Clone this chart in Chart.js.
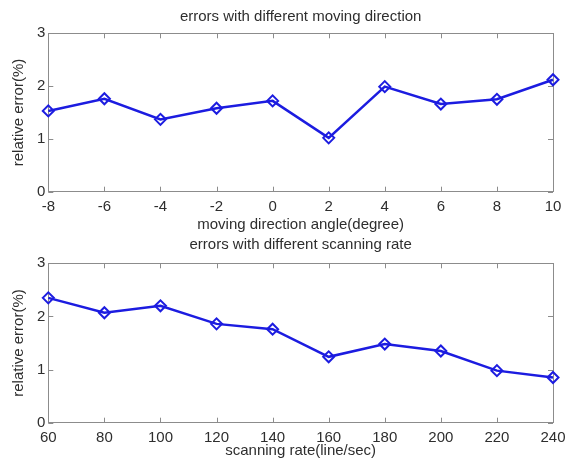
<!DOCTYPE html>
<html>
<head>
<meta charset="utf-8">
<style>
  body { margin: 0; background: #fff; }
  #wrap { position: relative; width: 565px; height: 464px; }
  .box { position: absolute; left: 0; width: 565px; }
</style>
</head>
<body>
<div id="wrap">
  <div class="box" style="top:0;height:234px"><canvas id="c1"></canvas></div>
  <div class="box" style="top:232px;height:228px"><canvas id="c2"></canvas></div>
</div>
<script src="https://cdn.jsdelivr.net/npm/chart.js"></script>
<script>
// data
const angles = [-8, -6, -4, -2, 0, 2, 4, 6, 8, 10];
const angleErrors = [1.53, 1.76, 1.37, 1.58, 1.72, 1.02, 1.99, 1.66, 1.75, 2.12];
const rates = [60, 80, 100, 120, 140, 160, 180, 200, 220, 240];
const rateErrors = [2.35, 2.07, 2.20, 1.86, 1.76, 1.24, 1.48, 1.35, 0.98, 0.85];
const yMin = 0, yMax = 3, yStep = 1;

const FONT = "'Liberation Sans', Arial, sans-serif";
const TEXT = '#2e2e2e';
const BLUE = '#1c1ce0';

// matlab style box with inward ticks on all four sides
const matlabBox = {
  id: 'matlabBox',
  beforeDatasetsDraw(chart) {
    const { ctx, chartArea: a, scales: { x, y } } = chart;
    ctx.save();
    ctx.strokeStyle = '#8c8c8c';
    ctx.lineWidth = 1;
    ctx.strokeRect(Math.round(a.left) + 0.5, Math.round(a.top) + 0.5,
      Math.round(a.right - a.left), Math.round(a.bottom - a.top));
    ctx.beginPath();
    x.ticks.forEach(t => {
      const px = Math.round(x.getPixelForValue(t.value)) + 0.5;
      ctx.moveTo(px, a.bottom); ctx.lineTo(px, a.bottom - 5);
      ctx.moveTo(px, a.top); ctx.lineTo(px, a.top + 5);
    });
    y.ticks.forEach(t => {
      const py = Math.round(y.getPixelForValue(t.value)) + 0.5;
      ctx.moveTo(a.left, py); ctx.lineTo(a.left + 5, py);
      ctx.moveTo(a.right, py); ctx.lineTo(a.right - 5, py);
    });
    ctx.stroke();
    ctx.restore();
  }
};

function makeChart(id, xs, ys, opts) {
  return new Chart(document.getElementById(id), {
    type: 'line',
    data: {
      datasets: [{
        data: xs.map((v, i) => ({ x: v, y: ys[i] })),
        borderColor: BLUE,
        borderWidth: 2.5,
        pointStyle: 'rectRot',
        pointRadius: 5.5,
        pointBorderWidth: 2,
        pointBorderColor: BLUE,
        pointBackgroundColor: 'rgba(0,0,0,0)',
        tension: 0,
        clip: false
      }]
    },
    plugins: [matlabBox],
    options: {
      responsive: true,
      maintainAspectRatio: false,
      animation: false,
      layout: { padding: { left: 0, right: 12, top: 0, bottom: 0 } },
      plugins: {
        legend: { display: false },
        tooltip: { enabled: false },
        title: {
          display: true,
          fullSize: false,
          text: opts.title,
          color: TEXT,
          font: { family: FONT, size: 15, weight: 'normal' },
          padding: opts.titlePad
        }
      },
      scales: {
        x: {
          type: 'linear',
          min: opts.xMin, max: opts.xMax,
          afterFit: s => { s.height = opts.xHeight; s.paddingLeft = 0; s.paddingRight = 0; },
          grid: { display: false, drawTicks: false },
          border: { display: false },
          ticks: { stepSize: opts.xStep, color: TEXT, padding: opts.xTickPad, maxRotation: 0,
                   font: { family: FONT, size: 15 } },
          title: { display: true, text: opts.xTitle, color: TEXT, padding: 0,
                   font: { family: FONT, size: 15 } }
        },
        y: {
          min: yMin, max: yMax,
          afterFit: s => { s.width = 48.3; s.paddingTop = 0; s.paddingBottom = 0; },
          grid: { display: false, drawTicks: false },
          border: { display: false },
          ticks: { stepSize: yStep, color: TEXT, padding: 3, font: { family: FONT, size: 15 } },
          title: { display: true, text: 'relative error(%)', color: TEXT, padding: { top: 10, bottom: 0 },
                   font: { family: FONT, size: 15 } }
        }
      }
    }
  });
}

makeChart('c1', angles, angleErrors, {
  title: 'errors with different moving direction',
  titlePad: { top: 8, bottom: 7.3 },
  xMin: -8, xMax: 10, xStep: 2,
  xHeight: 42.3, xTickPad: 6,
  xTitle: 'moving direction angle(degree)'
});

makeChart('c2', rates, rateErrors, {
  title: 'errors with different scanning rate',
  titlePad: { top: 4, bottom: 9.3 },
  xMin: 60, xMax: 240, xStep: 20,
  xHeight: 37.3, xTickPad: 6,
  xTitle: 'scanning rate(line/sec)'
});
</script>
</body>
</html>
